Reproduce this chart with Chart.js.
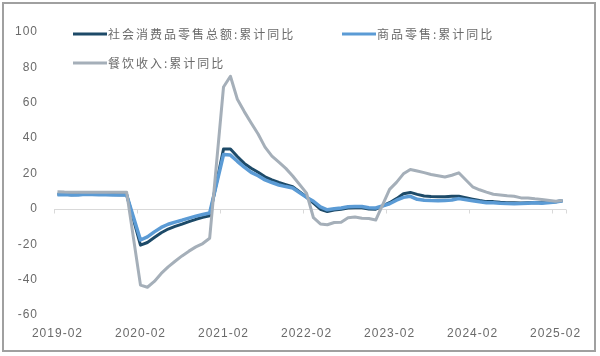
<!DOCTYPE html>
<html>
<head>
<meta charset="utf-8">
<script src="https://cdn.jsdelivr.net/npm/chart.js@4/dist/chart.umd.min.js"></script>
<style>
html,body{margin:0;padding:0;background:#fff;}
canvas{display:block;}
</style>
</head>
<body>
<canvas id="c" width="600" height="356"></canvas>
<script>
const months = [
 '2019-02','2019-03','2019-04','2019-05','2019-06','2019-07','2019-08','2019-09','2019-10','2019-11','2019-12',
 '2020-02','2020-03','2020-04','2020-05','2020-06','2020-07','2020-08','2020-09','2020-10','2020-11','2020-12',
 '2021-02','2021-03','2021-04','2021-05','2021-06','2021-07','2021-08','2021-09','2021-10','2021-11','2021-12',
 '2022-02','2022-03','2022-04','2022-05','2022-06','2022-07','2022-08','2022-09','2022-10','2022-11','2022-12',
 '2023-02','2023-03','2023-04','2023-05','2023-06','2023-07','2023-08','2023-09','2023-10','2023-11','2023-12',
 '2024-02','2024-03','2024-04','2024-05','2024-06','2024-07','2024-08','2024-09','2024-10','2024-11','2024-12',
 '2025-02','2025-03'
];
const totalRetail = [
 8.2, 8.3, 8.0, 8.1, 8.4, 8.3, 8.2, 8.2, 8.1, 8.0, 8.0,
 -20.5, -19.0, -16.2, -13.5, -11.4, -9.9, -8.6, -7.2, -5.9, -4.8, -3.9,
 33.8, 33.9, 29.6, 25.7, 23.0, 20.7, 18.1, 16.4, 14.9, 13.7, 12.5,
 6.7, 3.3, -0.2, -1.5, -0.7, -0.2, 0.5, 0.7, 0.6, -0.1, -0.2,
 3.5, 5.8, 8.5, 9.3, 8.2, 7.3, 7.0, 6.8, 6.9, 7.2, 7.2,
 5.5, 4.7, 4.1, 4.1, 3.7, 3.5, 3.4, 3.3, 3.5, 3.5, 3.5,
 4.0, 4.6
];
const goodsRetail = [
 8.0, 8.1, 7.8, 7.9, 8.2, 8.1, 8.0, 8.0, 7.9, 7.8, 7.9,
 -17.6, -15.8, -13.0, -10.5, -8.7, -7.5, -6.4, -5.2, -4.1, -3.2, -2.3,
 30.7, 30.4, 26.9, 23.6, 20.6, 18.7, 16.4, 14.9, 13.5, 12.6, 11.8,
 6.5, 4.3, 1.1, -0.5, 0.1, 0.5, 1.2, 1.4, 1.3, 0.6, 0.5,
 2.9, 4.9, 6.5, 7.1, 5.4, 4.9, 4.7, 4.6, 4.8, 5.0, 5.8,
 4.6, 4.0, 3.5, 3.5, 3.2, 3.0, 2.9, 3.0, 3.2, 3.4, 3.2,
 3.9, 4.6
];
const catering = [
 9.7, 9.5, 9.4, 9.4, 9.4, 9.4, 9.4, 9.4, 9.4, 9.4, 9.4,
 -43.1, -44.3, -41.0, -36.5, -32.8, -29.6, -26.6, -23.9, -21.5, -19.6, -16.6,
 68.9, 75.0, 62.0, 55.0, 48.6, 42.3, 34.9, 29.8, 26.4, 22.9, 18.6,
 8.9, -5.0, -8.5, -9.0, -7.7, -7.5, -5.0, -4.6, -5.3, -5.4, -6.3,
 11.0, 15.0, 19.8, 22.3, 21.4, 20.5, 19.4, 18.7, 18.0, 19.0, 20.4,
 12.5, 10.8, 9.5, 8.3, 7.9, 7.4, 7.1, 6.2, 6.2, 5.7, 5.3,
 4.3, 4.7
];
const seriesNames = ['社会消费品零售总额:累计同比', '商品零售:累计同比', '餐饮收入:累计同比'];
const seriesColors = ['#1d4a68', '#5b9bd5', '#a5afb9'];
const xTickLabels = ['2019-02','2020-02','2021-02','2022-02','2023-02','2024-02','2025-02'];
const yTicks = [100, 80, 60, 40, 20, 0, -20, -40, -60];
const textColor = '#6a6a6a';

function monthIndex(s){ const [y,m] = s.split('-').map(Number); return (y-2019)*12 + (m-2); }
function toPts(arr){ return arr.map((v,i)=>({x: monthIndex(months[i]), y: v})); }
const xTickVals = xTickLabels.map(monthIndex);

const frame = {
  id: 'frame',
  beforeDraw(chart){
    try { chart.ctx.letterSpacing = '1px'; } catch(e){}
  },
  beforeDatasetsDraw(chart){
    const {ctx, scales:{x,y}} = chart;
    const y0 = Math.round(y.getPixelForValue(0)) + 0.5;
    ctx.save();
    ctx.strokeStyle = '#d9d9d9';
    ctx.lineWidth = 1;
    ctx.beginPath();
    ctx.moveTo(x.left, y0); ctx.lineTo(x.right, y0);
    const bounds = xTickVals.map(v=>v-0.5).concat([x.max]);
    bounds.forEach(b=>{
      const px = Math.round(x.getPixelForValue(b)) + 0.5;
      ctx.moveTo(px, y0); ctx.lineTo(px, y0+4);
    });
    ctx.stroke();
    ctx.restore();
  },
  afterDraw(chart){
    const ctx = chart.ctx;
    ctx.save();
    const items = [
      {lx:73, ly:34, idx:0},
      {lx:342, ly:34, idx:1},
      {lx:73, ly:63, idx:2}
    ];
    ctx.font = '12px "Noto Sans CJK SC"';
    ctx.textBaseline = 'middle';
    ctx.textAlign = 'left';
    try { ctx.letterSpacing = '2px'; } catch(e){}
    items.forEach(it=>{
      ctx.strokeStyle = seriesColors[it.idx];
      ctx.lineWidth = 3;
      ctx.beginPath();
      ctx.moveTo(it.lx, it.ly); ctx.lineTo(it.lx+34, it.ly);
      ctx.stroke();
      ctx.fillStyle = textColor;
      ctx.fillText(chart.data.datasets[it.idx].label, it.lx+35, it.ly);
    });
    try { ctx.letterSpacing = '0px'; } catch(e){}
    ctx.strokeStyle = '#a0a0a0';
    ctx.lineWidth = 2;
    ctx.strokeRect(3, 3, 592, 348);
    ctx.restore();
  }
};

new Chart(document.getElementById('c'), {
  type: 'line',
  data: {
    datasets: [
      {label: seriesNames[0], data: toPts(totalRetail), borderColor: seriesColors[0], borderWidth: 3, order: 2},
      {label: seriesNames[1], data: toPts(goodsRetail), borderColor: seriesColors[1], borderWidth: 3.5, order: 1},
      {label: seriesNames[2], data: toPts(catering), borderColor: seriesColors[2], borderWidth: 3, order: 0}
    ]
  },
  options: {
    responsive: false,
    animation: false,
    devicePixelRatio: 1,
    layout: {padding: {left: 0, right: 34, top: 32, bottom: 0}},
    elements: {
      point: {radius: 0, hoverRadius: 0},
      line: {tension: 0, borderJoinStyle: 'round', borderCapStyle: 'butt', fill: false}
    },
    plugins: {legend: {display: false}, tooltip: {enabled: false}},
    scales: {
      x: {
        type: 'linear',
        min: -0.5,
        max: 73.5,
        grid: {display: false, drawTicks: false},
        border: {display: false},
        afterBuildTicks(s){ s.ticks = xTickVals.map(v=>({value: v})); },
        afterFit(s){ s.height = 41; },
        ticks: {
          autoSkip: false, maxRotation: 0, minRotation: 0, padding: 11,
          color: textColor, font: {family: '"Liberation Sans", Arial, sans-serif', size: 12},
          callback(v, i){ return xTickLabels[i]; }
        }
      },
      y: {
        min: -60,
        max: 100,
        grid: {display: false, drawTicks: false},
        border: {display: false},
        afterBuildTicks(s){ s.ticks = yTicks.slice().reverse().map(v=>({value: v})); },
        afterFit(s){ s.width = 54; },
        ticks: {
          padding: 16,
          color: textColor, font: {family: '"Liberation Sans", Arial, sans-serif', size: 12}
        }
      }
    }
  },
  plugins: [frame]
});
</script>
</body>
</html>
